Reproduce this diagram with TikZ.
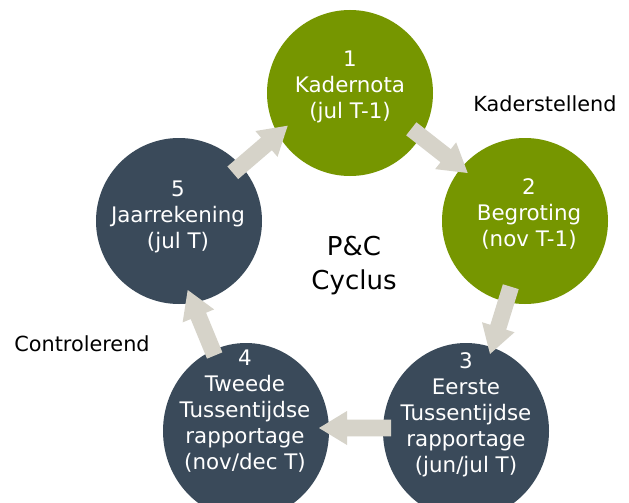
\documentclass[tikz,border=0pt]{standalone}
\usepackage{fontspec}
\setmainfont{DejaVu Sans}
\usetikzlibrary{calc,shapes.geometric}
\definecolor{pcgreen}{RGB}{118,150,0}
\definecolor{pcslate}{RGB}{58,74,90}
\definecolor{pcarrow}{RGB}{214,211,201}
\newcommand\pcblockarrow[2]{%
  \coordinate (pchb) at ($(#2)!28pt!(#1)$);
  \fill[pcarrow] ($(#1)!8.3pt!90:(#2)$) -- ($(pchb)!8.3pt!90:(#2)$) -- ($(pchb)!17pt!90:(#2)$) -- (#2)
    -- ($(pchb)!17pt!-90:(#2)$) -- ($(pchb)!8.3pt!-90:(#2)$) -- ($(#1)!8.3pt!-90:(#2)$) -- cycle;
}
\tikzset{
  phase/.style={circle, minimum size=166pt, inner sep=0pt, draw=none},
  lowphase/.style={ellipse, minimum width=166pt, minimum height=176pt, inner sep=0pt, draw=none, fill=pcslate},
  greenphase/.style={phase, fill=pcgreen},
  slatephase/.style={phase, fill=pcslate},
  phasetext/.style={text=white, align=center, inner sep=0pt, font=\fontsize{21.4}{26}\selectfont},
  sidelabel/.style={text=black, inner sep=0pt, font=\fontsize{20.8}{26}\selectfont},
  centerlabel/.style={text=black, align=center, inner sep=0pt, font=\fontsize{26}{34}\selectfont},
}
\begin{document}
\begin{tikzpicture}[x=1pt,y=-1pt]
\useasboundingbox (0,0) rectangle (629,503);
\clip (0,0) rectangle (629,503);
\fill[white] (0,0) rectangle (629,503);
% circles
\node[greenphase] (c1) at (350,93) {};
\node[greenphase] (c2) at (525,221) {};
\node[lowphase] (c3) at (466,431) {};
\node[lowphase] (c4) at (246,431) {};
\node[slatephase] (c5) at (179,221) {};
% texts
\node[phasetext] (t1) at (350,87) {1\\Kadernota\\(jul T-1)};
\node[phasetext] (t2) at (529,214) {2\\Begroting\\(nov T-1)};
\node[phasetext] (t3) at (466,415) {3\\Eerste\\Tussentijdse\\rapportage\\(jun/jul T)};
\node[phasetext] (t4) at (245,411) {4\\Tweede\\Tussentijdse\\rapportage\\(nov/dec T)};
\node[phasetext] (t5) at (178,217) {5\\Jaarrekening\\(jul T)};
\node[centerlabel] (pc) at (354,266) {P\&C\\Cyclus};
\node[sidelabel] (ks) at (545,104) {Kaderstellend};
\node[sidelabel] (cr) at (82,344) {Controlerend};
% arrow end points
\coordinate (a12t) at (411.3,128.8); \coordinate (a12h) at (467.7,173);
\coordinate (a23t) at (510.8,286.7); \coordinate (a23h) at (490,354);
\coordinate (a34t) at (391,428);     \coordinate (a34h) at (319,428);
\coordinate (a45t) at (214.7,355.5); \coordinate (a45h) at (187.7,290);
\coordinate (a51t) at (232.8,172.8); \coordinate (a51h) at (287.7,125.7);
\pcblockarrow{a12t}{a12h}
\pcblockarrow{a23t}{a23h}
\pcblockarrow{a34t}{a34h}
\pcblockarrow{a45t}{a45h}
\pcblockarrow{a51t}{a51h}
\end{tikzpicture}
\end{document}
